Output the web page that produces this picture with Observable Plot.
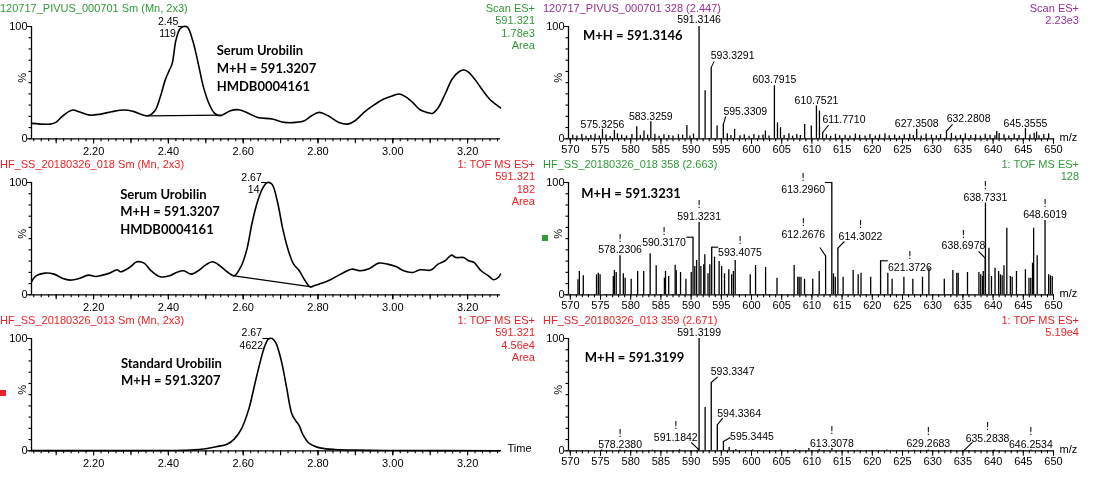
<!DOCTYPE html>
<html><head><meta charset="utf-8">
<script src="https://cdn.jsdelivr.net/npm/d3@7"></script>
<script src="https://cdn.jsdelivr.net/npm/@observablehq/plot@0.6"></script>
<style>
body{margin:0;background:#fff;}
#root{position:relative;width:1105px;height:481px;overflow:hidden;background:#fff;font-family:"Liberation Sans",Arial,sans-serif;}
#root svg{will-change:transform;}
.hdr{position:absolute;font-size:11px;line-height:12.6px;white-space:nowrap;}
</style></head><body><div id="root"></div>
<script>
// ================= DATA =================
const timeLabelTicks = [2.2, 2.4, 2.6, 2.8, 3.0, 3.2];
const mzLabelTicks = [570, 575, 580, 585, 590, 595, 600, 605, 610, 615, 620, 625, 630, 635, 640, 645, 650];
const pctLabelTicks = [0, 100];

const headerTitles = [
  "120717_PIVUS_000701 Sm (Mn, 2x3)", "120717_PIVUS_000701 328 (2.447)",
  "HF_SS_20180326_018 Sm (Mn, 2x3)", "HF_SS_20180326_018 358 (2.663)",
  "HF_SS_20180326_013 Sm (Mn, 2x3)", "HF_SS_20180326_013 359 (2.671)"
];
const headerInfo = [
  ["Scan ES+", "591.321", "1.78e3", "Area"], ["Scan ES+", "2.23e3"],
  ["1: TOF MS ES+", "591.321", "182", "Area"], ["1: TOF MS ES+", "128"],
  ["1: TOF MS ES+", "591.321", "4.56e4", "Area"], ["1: TOF MS ES+", "5.19e4"]
];

// Chromatogram 1 (serum, PIVUS)
const chrom1Time = [2.034,2.084,2.099,2.118,2.144,2.161,2.190,2.219,2.248,2.282,2.306,2.345,2.364,2.378,2.391,2.402,2.410,2.420,2.431,2.441,2.451,2.465,2.480,2.494,2.509,2.523,2.538,2.552,2.566,2.588,2.615,2.639,2.677,2.711,2.740,2.764,2.783,2.803,2.827,2.856,2.880,2.899,2.923,2.947,2.976,3.000,3.018,3.034,3.053,3.073,3.092,3.106,3.121,3.140,3.159,3.179,3.191,3.203,3.222,3.241,3.261,3.280,3.288];
const chrom1Pct = [13.7,13.1,14.6,20.5,25.6,24.1,21.1,22.0,24.1,25.6,24.4,20.5,25.0,36.9,51.8,60.7,66.7,87.5,97.9,100,99.4,87.5,66.7,45.8,31.0,22.9,20.5,22.6,25.0,25.9,22.6,19.0,17.6,14.6,14.6,16.1,20.5,23.5,20.5,14.6,13.1,16.1,23.5,29.5,35.4,38.4,39.9,37.5,32.4,25.9,23.5,22.6,27.4,39.9,53.3,60.1,61.3,59.2,51.8,42.9,34.5,29.5,27.5];
const chrom1BaseTime = [2.345, 2.542];
const chrom1BasePct = [20.5, 21.1];
const chrom1PeakText = ["2.45", "119"];
const chrom1Note = ["Serum Urobilin", "M+H = 591.3207", "HMDB0004161"];

// Chromatogram 2 (serum, HF_SS_018)
const chrom2Time = [2.034,2.046,2.070,2.094,2.118,2.137,2.161,2.186,2.205,2.224,2.243,2.263,2.272,2.296,2.316,2.335,2.354,2.378,2.403,2.422,2.441,2.460,2.480,2.499,2.518,2.538,2.557,2.576,2.595,2.610,2.624,2.639,2.653,2.665,2.677,2.692,2.706,2.721,2.735,2.750,2.764,2.779,2.793,2.812,2.836,2.861,2.890,2.914,2.938,2.962,2.986,3.010,3.029,3.053,3.073,3.102,3.121,3.140,3.157,3.169,3.189,3.203,3.217,3.236,3.256,3.270,3.282,3.288];
const chrom2Pct = [11.6,16.9,19.3,18.4,14.5,13.1,14.5,17.5,16.3,17.5,19.3,22.3,20.5,24.3,29.4,28.2,21.4,16.0,16.9,19.9,21.4,18.4,21.4,26.4,29.4,25.8,20.5,16.9,25.8,40.7,64.4,83.7,95.5,100,98.5,82.2,58.5,39.2,27.3,21.4,13.4,7.1,8.6,10.4,13.9,18.4,22.8,21.4,23.4,28.2,27.3,24.9,21.4,19.9,22.3,22.0,27.3,30.3,35.3,33.2,33.2,30.3,28.8,21.4,16.9,13.4,15.4,18.4];
const chrom2BaseTime = [2.576, 2.783];
const chrom2BasePct = [16.9, 7.1];
const chrom2PeakText = ["2.67", "14"];
const chrom2Note = ["Serum Urobilin", "M+H = 591.3207", "HMDB0004161"];

// Chromatogram 3 (standard, HF_SS_013)
const chrom3Time = [2.034,2.30,2.40,2.46,2.50,2.528,2.557,2.576,2.595,2.615,2.629,2.644,2.658,2.668,2.677,2.687,2.702,2.716,2.730,2.740,2.750,2.759,2.774,2.788,2.808,2.846,2.904,3.000,3.288];
const chrom3Pct = [0.2,0.2,0.3,0.6,1.8,3.6,5.9,10.4,19.3,37.1,56.4,77.2,93.5,99.6,100,96.4,80.1,56.4,33.0,27.0,22.3,14.8,7.4,4.5,2.4,1.2,0.6,0.3,0.1];
const chrom3PeakText = ["2.67", "4622"];
const chrom3Note = ["Standard Urobilin", "M+H = 591.3207"];

// Spectrum 1 (scan 328, 2.447)
const spec1Mz = [575.3256,577.3,581.0,582.2,583.3259,589.3,591.3146,592.32,593.3291,594.3,595.3309,597.2,602.3,603.7915,604.3,604.8,608.8,609.9,610.7521,611.25,611.7710,627.3508,632.2808,640.6,645.3555,647.2];
const spec1Int = [8.4,7.5,10.7,6.9,15.2,11.9,100,42.7,63.6,11.3,12.8,8.4,6.9,47.2,14.3,9.9,12.8,11.3,29.3,24.8,5.4,8.4,6.9,6.5,9.0,6.0];
const spec1NoiseMz = [570.4,571.1,571.9,572.6,573.4,574.1,574.8,575.9,576.6,577.8,578.5,579.3,580.2,581.6,582.8,584.0,584.7,585.5,586.3,587.0,587.9,588.6,589.8,590.4,596.0,596.6,598.1,598.8,599.6,600.4,601.2,601.9,602.9,605.4,606.2,606.8,607.5,608.1,612.4,613.1,613.9,614.6,615.5,616.3,617.2,617.9,618.8,619.6,620.5,621.2,622.1,622.8,623.7,624.5,625.3,626.2,626.8,628.1,628.9,629.8,630.6,631.3,633.1,633.8,634.6,635.4,636.3,637.1,637.9,638.7,639.5,640.3,641.0,641.8,642.6,643.5,644.3,646.1,646.8,647.6,648.4,649.2];
const spec1NoiseInt = [3.1,2.4,3.8,2.2,3.0,4.1,2.6,3.4,2.1,4.4,3.2,2.5,3.9,2.8,3.3,4.0,2.3,3.6,2.9,2.4,3.7,3.1,2.6,4.2,4.5,3.0,2.7,3.5,2.2,3.9,2.8,3.3,2.5,3.0,4.4,2.4,3.8,2.9,3.6,2.3,4.0,2.7,3.2,2.5,4.3,3.1,2.6,3.9,2.4,3.5,4.6,2.8,3.3,2.2,3.7,4.1,2.9,2.5,4.2,3.4,2.7,3.8,4.8,2.6,3.1,4.5,2.9,3.6,2.4,4.0,3.2,2.8,4.7,3.5,2.6,4.1,3.0,3.4,4.9,2.7,3.9,4.4];
const spec1LabelMz = [575.3256,583.3259,591.3146,593.3291,595.3309,603.7915,610.7521,611.7710,627.3508,632.2808,645.3555];
const spec1Note = "M+H = 591.3146";

// Spectrum 2 (scan 358, 2.663)
const spec2Mz = [578.2306,590.3170,591.3231,593.4075,612.2676,613.2960,614.3022,621.3726,638.6978,638.7331,648.6019,571.27,571.50,572.15,574.34,574.64,574.93,577.12,577.30,577.60,578.78,579.08,580.08,581.15,582.15,583.22,584.22,585.58,585.76,586.29,587.36,587.54,588.25,589.14,590.02,590.61,590.91,591.62,592.09,592.27,592.80,593.10,593.87,594.64,595.05,595.53,596.24,596.71,597.00,597.30,599.79,600.67,602.33,604.22,607.06,607.66,607.89,608.19,608.78,610.14,611.21,613.57,613.87,615.17,616.83,617.66,618.13,619.73,622.57,623.28,625.23,626.71,628.31,629.37,631.92,633.34,633.99,634.22,635.76,637.65,637.95,638.25,638.37,639.31,639.73,640.32,640.91,641.21,641.50,641.80,642.27,642.86,643.16,643.87,645.35,645.94,646.24,646.53,646.71,647.30,649.20,649.49,649.79];
const spec2Int = [34.7,51.3,64.4,42.4,34.7,100,41.5,30.3,32.6,81.6,66.2,13.4,20.8,16.9,17.8,19.3,17.8,16.3,21.7,19.9,18.7,14.8,13.9,20.8,20.8,36.5,25.8,14.8,20.8,16.3,26.4,21.4,19.9,13.9,19.9,25.2,30.6,25.2,26.7,35.6,18.7,26.7,33.5,29.7,25.2,18.7,22.3,17.8,20.8,30.6,17.8,26.1,24.3,14.8,26.1,15.7,15.7,15.7,13.9,13.9,20.8,18.7,15.7,15.7,21.7,17.8,19.3,15.7,19.3,13.9,15.7,13.9,15.7,23.7,13.9,21.7,19.3,19.3,19.9,19.9,17.8,16.3,20.8,41.5,16.3,23.7,20.8,17.8,16.9,25.8,59.3,16.3,15.7,20.8,22.3,14.8,14.8,28.2,59.3,34.7,17.8,16.9,16.3];
const spec2LabelMz = [578.2306,590.3170,591.3231,593.4075,612.2676,613.2960,614.3022,621.3726,638.6978,638.7331,648.6019];
const spec2Note = "M+H = 591.3231";

// Spectrum 3 (scan 359, 2.671)
const spec3Mz = [578.2380,591.1842,591.3199,592.32,593.3347,594.3364,595.3445,596.3,609.5,613.3078,629.2683,635.2838,646.2534];
const spec3Int = [0.8,1.5,100,38.6,60.8,23.1,8.3,3.0,2.1,2.0,0.8,0.8,0.8];
const spec3NoiseMz = [575.2,583.6,588.1,597.4,600.2,604.8,607.3,611.2,617.5,622.4,626.9,633.0,640.2,644.5];
const spec3NoiseInt = [0.7,0.6,0.9,1.2,0.8,0.7,1.0,1.1,0.6,0.7,0.5,0.6,0.7,0.6];
const spec3LabelMz = [578.2380,591.1842,591.3199,593.3347,594.3364,595.3445,613.3078,629.2683,635.2838,646.2534];
const spec3Note = "M+H = 591.3199";

// ================= LAYOUT (pixel offsets, styles) =================
const GREEN = "#2f9a38", RED = "#ec2226", PURPLE = "#963096";
const headerColors = [GREEN, PURPLE, RED, GREEN, RED, RED];
const ROWS = [{top: 0, h: 156}, {top: 156, h: 156}, {top: 312, h: 169}];
const MT = 26, PH = 112.3;
const SANS = '"Liberation Sans", Arial, sans-serif';
const BOLD = 'Lato, "Open Sans", sans-serif';
// label layout: [dx, dy, exclamation dy or null, leader]; leader ["s",lx,ly] slant, ["b",bx] bracket
const spec1Layout = [[0,-4.5,null,null],[0,-5,null,null],[0,-6.5,null,null],[21.4,-11.7,null,["s",3,-6]],[22,-13.3,null,["s",2.5,-8]],[0,-5.7,null,null],[0,-5.7,null,null],[21.4,-13.3,null,["s",6,-7.7]],[0,-5.7,null,null],[22.1,-12.7,null,["s",6,-6.7]],[0,-5,null,null]];
const spec2Layout = [[0,-6,-17.7,null],[-29,5.7,-6,["b",-6.7]],[0,-6,-17.7,null],[28.3,5.3,-6.7,["b",6.5]],[-22.3,-21.3,-33,["s",-5.7,-8.3]],[-28.6,7.3,-5.3,["b",-7]],[22.6,-11.7,-23.4,["s",6.5,-6.7]],[29.3,6.4,-5.3,["b",7.2]],[-21.8,-12.4,-24,["s",-6.6,-6.7]],[0,-5.7,-18,null],[0,-5.7,-17.3,null]];
const spec3Layout = [[0,-5,-16.7,null],[-22.5,-11.7,-23.3,["s",-7,-6.6]],[0,-6,null,null],[21.4,-11,null,["s",6.4,-5.7]],[21.8,-11.7,null,["s",5.4,-6.7]],[28.6,-5,null,["s",7,-4]],[0,-5.3,-18.3,null],[0,-6,-18.7,null],[22.9,-11.7,-23.7,["s",7.9,-7.7]],[0,-5,-18.7,null]];

const root = document.getElementById("root");
function put(node, left, top) {
  node.style.position = "absolute"; node.style.left = left + "px"; node.style.top = top + "px";
  root.appendChild(node);
}
const blank = () => "";

// ---------- chromatogram panel ----------
function chromPlot(row, time, pct, baseT, baseP, peakText, peakOff, note, noteAt, showTime) {
  const h = ROWS[row].h, w = 545, ml = 31, mr = 45, x0 = 2.034, x1 = 3.288;
  const pxX = (w - ml - mr) / (x1 - x0), pxY = PH / 100;
  const pts = time.map((t, i) => ({t, p: pct[i]}));
  const ai = d3.maxIndex(pct), at = time[ai];
  const minor = d3.range(102, 165).map(i => i / 50);
  const mid = d3.range(21, 33).map(i => i / 10);
  const marks = [
    Plot.axisX({ticks: minor, tickSize: 3, tickFormat: blank, label: null, strokeWidth: 1.1}),
    Plot.axisX({ticks: mid, tickSize: 5, tickFormat: blank, label: null, strokeWidth: 1.1}),
    Plot.axisX({ticks: timeLabelTicks, tickSize: 5, tickPadding: 3, tickFormat: d3.format(".2f"), label: null, fontSize: 11}),
    Plot.axisY({ticks: d3.range(0, 101, 10), tickSize: 2.5, tickFormat: blank, label: null, strokeWidth: 1.1}),
    Plot.axisY({ticks: pctLabelTicks, tickSize: 4, tickPadding: 0, label: null, fontSize: 11}),
    Plot.ruleY([0], {stroke: "#000", strokeWidth: 1.3}),
    Plot.ruleX([x0], {y1: 0, y2: 100, stroke: "#000", strokeWidth: 1.3}),
    Plot.text(["%"], {frameAnchor: "left", dx: -9, rotate: -90, fontSize: 11}),
    Plot.line(pts, {x: "t", y: "p", curve: "catmull-rom", stroke: "#000", strokeWidth: 1.6}),
    Plot.ruleY([100], {x1: at - peakOff[2] / pxX, x2: at, stroke: "#000", strokeWidth: 1.1}),
    Plot.text([peakText[0]], {x: at + peakOff[0] / pxX, y: 100 - peakOff[1] / pxY, textAnchor: "end", fontSize: 10.5}),
    Plot.text([peakText[1]], {x: at + peakOff[3] / pxX, y: 100 - peakOff[4] / pxY, textAnchor: "end", fontSize: 10.5}),
    Plot.text(note, {x: noteAt[0], y: (d, i) => noteAt[1] - i * noteAt[2], textAnchor: "start", fontFamily: BOLD, fontWeight: "bold", fontSize: 13})
  ];
  if (baseT) marks.push(Plot.line(baseT.map((t, i) => ({t, p: baseP[i]})), {x: "t", y: "p", stroke: "#000", strokeWidth: 1.2}));
  if (showTime) marks.push(Plot.text(["Time"], {frameAnchor: "bottom-right", dx: 7, dy: 1, textAnchor: "start", fontSize: 11}));
  return Plot.plot({
    width: w, height: h, marginLeft: ml, marginRight: mr, marginTop: MT, marginBottom: h - MT - PH,
    x: {domain: [x0, x1], label: null}, y: {domain: [0, 100], label: null},
    style: {fontFamily: SANS, fontSize: "11px", background: "transparent", color: "#000", overflow: "visible"},
    marks
  });
}

// ---------- spectrum panel ----------
function specPlot(row, mzArr, intArr, noiseMz, noiseInt, labMz, layout, note, noteAt) {
  const h = ROWS[row].h, w = 560, ml = 23, mr = 52, x0 = 569.7, x1 = 650;
  const pxX = (w - ml - mr) / (x1 - x0), pxY = PH / 100;
  const bars = mzArr.map((m, i) => ({m, v: intArr[i]})).concat(noiseMz.map((m, i) => ({m, v: noiseInt[i]})));
  const labs = [], exs = [], leaders = [];
  labMz.forEach((m, i) => {
    const v = intArr[mzArr.indexOf(m)];
    const [dx, dy, ex, lead] = layout[i];
    labs.push({x: m + dx / pxX, y: v - dy / pxY, text: m.toFixed(4)});
    if (ex != null) exs.push({x: m + dx / pxX, y: v - ex / pxY});
    if (lead) {
      if (lead[0] === "s") leaders.push({x1: m, y1: v, x2: m + lead[1] / pxX, y2: v - lead[2] / pxY});
      else leaders.push({x1: m, y1: v, x2: m + lead[1] / pxX, y2: v});
    }
  });
  const minor = d3.range(570, 651, 1);
  return Plot.plot({
    width: w, height: h, marginLeft: ml, marginRight: mr, marginTop: MT, marginBottom: h - MT - PH,
    x: {domain: [x0, x1], label: null}, y: {domain: [0, 100], label: null},
    style: {fontFamily: SANS, fontSize: "11px", background: "transparent", color: "#000", overflow: "visible"},
    marks: [
      Plot.axisX({ticks: minor, tickSize: 3, tickFormat: blank, label: null, strokeWidth: 1.1}),
      Plot.axisX({ticks: mzLabelTicks, tickSize: 5.5, tickPadding: 1, label: null, fontSize: 11}),
      Plot.axisY({ticks: d3.range(0, 101, 10), tickSize: 2.5, tickFormat: blank, label: null, strokeWidth: 1.1}),
      Plot.axisY({ticks: pctLabelTicks, tickSize: 4, tickPadding: 0, label: null, fontSize: 11}),
      Plot.ruleY([0], {stroke: "#000", strokeWidth: 1.3}),
      Plot.ruleX([x0], {y1: 0, y2: 100, stroke: "#000", strokeWidth: 1.3}),
      Plot.text(["%"], {frameAnchor: "left", dx: -10, rotate: -90, fontSize: 11}),
      Plot.text(["m/z"], {frameAnchor: "bottom-right", dx: 6, dy: 2, textAnchor: "start", fontSize: 11}),
      Plot.ruleX(bars, {x: "m", y1: 0, y2: "v", stroke: "#000", strokeWidth: 1.3}),
      Plot.link(leaders, {x1: "x1", y1: "y1", x2: "x2", y2: "y2", stroke: "#000", strokeWidth: 1.1}),
      Plot.text(labs, {x: "x", y: "y", text: "text", fontSize: 10.5, fill: "#000"}),
      Plot.text(exs, {x: "x", y: "y", text: () => "!", fontSize: 10.5, fill: "#000", fontFamily: '"DejaVu Sans", sans-serif'}),
      Plot.text([note], {x: noteAt[0], y: noteAt[1], textAnchor: "start", fontFamily: BOLD, fontWeight: "bold", fontSize: 13})
    ]
  });
}

// peakOff: [dx label1, dy label1, line length, dx label2, dy label2]
put(chromPlot(0, chrom1Time, chrom1Pct, chrom1BaseTime, chrom1BasePct, chrom1PeakText, [-5.3, -5.3, 5.3, -7.8, 7.3], chrom1Note, [2.529, 78, 15.7], false), 0, ROWS[0].top);
put(chromPlot(1, chrom2Time, chrom2Pct, chrom2BaseTime, chrom2BasePct, chrom2PeakText, [-5.7, -5, 6, -8, 6.7], chrom2Note, [2.271, 89, 15.5], false), 0, ROWS[1].top);
put(chromPlot(2, chrom3Time, chrom3Pct, null, null, chrom3PeakText, [-10, -6, 9, -9, 6.7], chrom3Note, [2.273, 77.5, 15.5], true), 0, ROWS[2].top);
put(specPlot(0, spec1Mz, spec1Int, spec1NoiseMz, spec1NoiseInt, spec1LabelMz, spec1Layout, spec1Note, [572.1, 92]), 545, ROWS[0].top);
put(specPlot(1, spec2Mz, spec2Int, [], [], spec2LabelMz, spec2Layout, spec2Note, [571.8, 89.9]), 545, ROWS[1].top);
put(specPlot(2, spec3Mz, spec3Int, spec3NoiseMz, spec3NoiseInt, spec3LabelMz, spec3Layout, spec3Note, [572.4, 82.5]), 545, ROWS[2].top);

// headers
headerTitles.forEach((t, i) => {
  const row = Math.floor(i / 2), right = i % 2 === 1;
  const d = document.createElement("div");
  d.className = "hdr"; d.style.color = headerColors[i]; d.textContent = t;
  put(d, right ? 543 : 0, ROWS[row].top + 1.7);
  const b = document.createElement("div");
  b.className = "hdr"; b.style.color = headerColors[i]; b.style.textAlign = "right";
  b.innerHTML = headerInfo[i].join("<br>");
  b.style.position = "absolute"; b.style.top = (ROWS[row].top + 1.7) + "px";
  b.style.right = (right ? 1105 - 1079 : 1105 - 535) + "px";
  root.appendChild(b);
});
// small channel markers
const sq = (c, l, t) => { const d = document.createElement("div"); d.style.width = "6px"; d.style.height = "6px"; d.style.background = c; put(d, l, t); };
sq(GREEN, 542, 235);
sq(RED, 0, 390);
</script></body></html>
